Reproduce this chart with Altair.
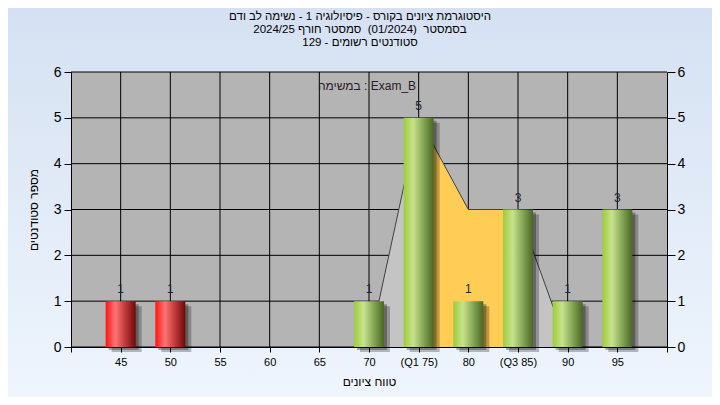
import altair as alt
import pandas as pd

FONT = "Liberation Sans"

# ---- data ----
grades = [45, 50, 70, 75, 80, 85, 90, 95]
counts = [1, 1, 1, 5, 1, 3, 1, 3]
groups = ["fail", "fail", "pass", "pass", "pass", "pass", "pass", "pass"]

poly_x = [70, 75, 80, 85, 90, 95]
poly_y = [0, 5, 3, 3, 0, 0]
iqr_x = [75, 80, 85]
iqr_y = [5, 3, 3]

tick_values = [40, 45, 50, 55, 60, 65, 70, 75, 80, 85, 90, 95, 100]
tick_labels = ["", "45", "50", "55", "60", "65", "70", "(Q1 75)", "80", "(Q3 85)", "90", "95", ""]
y_ticks = [0, 1, 2, 3, 4, 5, 6]
grid_x = [45, 50, 55, 60, 65, 70, 75, 80, 85, 90, 95]

title_lines = [
    "היסטוגרמת ציונים בקורס - פיסיולוגיה 1 - נשימה לב ודם",
    "בסמסטר \u00a0(01/2024) \u00a0סמסטר חורף 2024/25",
    "סטודנטים רשומים - 129",
]
y_title = "מספר סטודנטים"
x_title = "טווח ציונים"
note_text = "במשימה : Exam_B"

# ---- tables ----
bars = pd.DataFrame({"grade": grades, "count": counts, "group": groups})
poly = pd.DataFrame({"grade": poly_x, "count": poly_y})
iqr = pd.DataFrame({"grade": iqr_x, "count": iqr_y})
hgrid = pd.DataFrame({"v": y_ticks})
vgrid = pd.DataFrame({"v": grid_x})

W, H = 596, 275
PAD = {"left": 63, "top": 64, "right": 45, "bottom": 50}

xs = alt.Scale(domain=[40, 100], nice=False, zero=False, padding=0)
ys = alt.Scale(domain=[0, 6], nice=False, padding=0)

label_expr = "{}[indexof({}, datum.value)]".format(
    "[" + ",".join("'" + s + "'" for s in tick_labels) + "]",
    "[" + ",".join(str(v) for v in tick_values) + "]",
)

x_axis = alt.Axis(
    values=tick_values, labelExpr=label_expr, grid=False, zindex=1,
    domainColor="black", tickColor="black", tickSize=5, labelColor="black",
    labelFontSize=11, labelFont=FONT, labelPadding=4, labelFlush=False,
    title=x_title, titleFont=FONT, titleFontSize=12, titleFontWeight="normal",
    titleColor="black", titleX=W / 2, titleY=34, titleBaseline="middle",
)
y_axis_left = alt.Axis(
    values=y_ticks, grid=False, zindex=1, domainColor="black", tickColor="black",
    tickSize=7, labelColor="black", labelFontSize=14, labelFont=FONT, labelPadding=3,
    title=y_title, titleFont=FONT, titleFontSize=12, titleFontWeight="normal",
    titleColor="black", titleX=-38, titleY=H / 2, titleAngle=270, titleBaseline="middle",
    titleAlign="center",
)
y_axis_right = alt.Axis(
    values=y_ticks, grid=False, zindex=1, orient="right", domainColor="black",
    tickColor="black", tickSize=8, labelColor="black", labelFontSize=14,
    labelFont=FONT, labelPadding=2, title=None,
)

one = alt.Data(values=[{"a": 1}])

# chart background (gradient)
bg = alt.Chart(one).mark_rect(
    fill=alt.Gradient(gradient="linear", x1=0, y1=0, x2=0, y2=1,
                      stops=[alt.GradientStop(color="#D5E1F2", offset=0),
                             alt.GradientStop(color="#EEF5FD", offset=1)])
).encode(x=alt.value(-PAD["left"]), x2=alt.value(W + PAD["right"]),
         y=alt.value(-PAD["top"]), y2=alt.value(H + PAD["bottom"]))

title_txt = alt.Chart(one).mark_text(
    font=FONT, fontSize=11.5, color="black", baseline="middle", align="center",
    lineHeight=13,
).encode(x=alt.value(289), y=alt.value(-55), text=alt.value(title_lines))

plot_bg = alt.Chart(one).mark_rect(fill="#B4B4B4").encode(
    x=alt.X(datum=40, scale=xs, axis=x_axis), x2=alt.X2(datum=100),
    y=alt.Y(datum=0, scale=ys, axis=y_axis_left), y2=alt.Y2(datum=6))

hrules = alt.Chart(hgrid).mark_rule(color="black", strokeWidth=1).encode(
    y=alt.Y("v:Q", scale=ys))
vrules = alt.Chart(vgrid).mark_rule(color="black", strokeWidth=1).encode(
    x=alt.X("v:Q", scale=xs))

area_gray = alt.Chart(poly).mark_area(color="#C4C4C4").encode(
    x=alt.X("grade:Q", scale=xs), y=alt.Y("count:Q", scale=ys))
area_iqr = alt.Chart(iqr).mark_area(color="#FFCC55").encode(
    x=alt.X("grade:Q", scale=xs), y=alt.Y("count:Q", scale=ys))
outline = alt.Chart(poly).mark_line(color="#404040", strokeWidth=1).encode(
    x=alt.X("grade:Q", scale=xs), y=alt.Y("count:Q", scale=ys))

red_grad = alt.Gradient(gradient="linear", x1=0, y1=0, x2=1, y2=0, stops=[
    alt.GradientStop(color="#FF1414", offset=0),
    alt.GradientStop(color="#FF7474", offset=0.32),
    alt.GradientStop(color="#C03A3A", offset=0.65),
    alt.GradientStop(color="#6E0808", offset=1)])
green_grad = alt.Gradient(gradient="linear", x1=0, y1=0, x2=1, y2=0, stops=[
    alt.GradientStop(color="#9CCC3A", offset=0),
    alt.GradientStop(color="#C8E28E", offset=0.32),
    alt.GradientStop(color="#86A858", offset=0.65),
    alt.GradientStop(color="#4A6722", offset=1)])

base = alt.Chart(bars).encode(x=alt.X("grade:Q", scale=xs), y=alt.Y("count:Q", scale=ys))
shadow1 = base.mark_bar(size=30, color="black", opacity=0.3, xOffset=3, yOffset=3)
shadow2 = base.mark_bar(size=30, color="black", opacity=0.25, xOffset=6, yOffset=5)
red_bars = base.transform_filter("datum.group == 'fail'").mark_bar(size=30, fill=red_grad)
green_bars = base.transform_filter("datum.group == 'pass'").mark_bar(size=30, fill=green_grad)
labels = base.mark_text(font=FONT, fontSize=12, color="#1c2436", dy=-8,
                        baseline="alphabetic").encode(text="count:Q")

note = alt.Chart(one).mark_text(font=FONT, fontSize=12, color="#2a1a2a",
                                baseline="middle").encode(
    x=alt.X(datum=69.8, scale=xs), y=alt.Y(datum=5.69, scale=ys),
    text=alt.value(note_text))

main = alt.layer(bg, title_txt, plot_bg, hrules, vrules, area_gray, area_iqr, outline,
                 shadow1, shadow2, red_bars, green_bars, labels, note)

right_axis = alt.Chart(hgrid).mark_point(opacity=0).encode(
    y=alt.Y("v:Q", scale=ys, axis=y_axis_right))

chart = alt.layer(main, right_axis).resolve_scale(y="independent").properties(
    width=W, height=H, autosize="none", padding=PAD,
).configure_view(stroke=None)

chart.save("out.html", embed_options={"renderer": "svg", "actions": False})
